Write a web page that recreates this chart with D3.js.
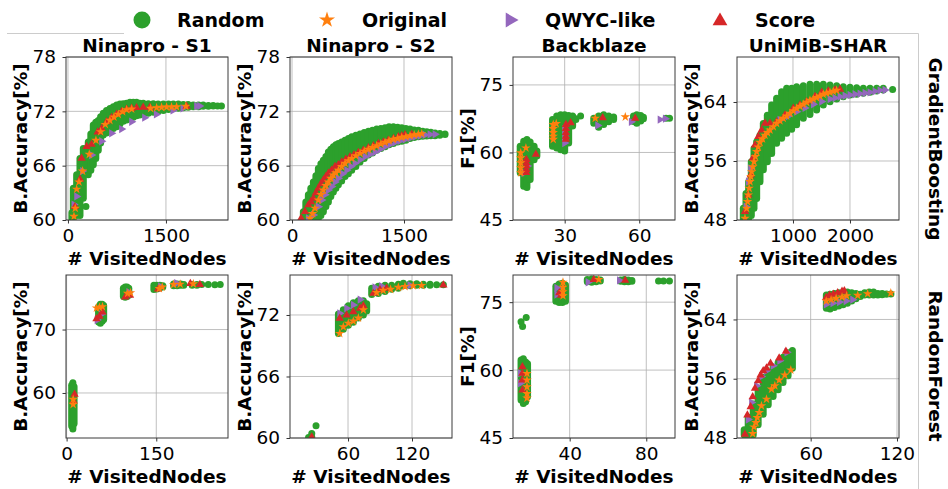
<!DOCTYPE html>
<html>
<head>
<meta charset="utf-8">
<script src="https://cdn.jsdelivr.net/npm/d3@7"></script>
<style>
  body { margin: 0; background: #fff; }
  text { font-family: "DejaVu Sans", sans-serif; }
</style>
</head>
<body>
<svg id="chart" width="948" height="489"></svg>
<script>
// series names in the legend
var seriesNames = ['Random', 'Original', 'QWYC-like', 'Score'];
var datasets = ['Ninapro - S1', 'Ninapro - S2', 'Backblaze', 'UniMiB-SHAR'];
var models = ['GradientBoosting', 'RandomForest'];

// Random rows are [visitedNodes, lowest acc, highest acc] : a column of points
// (a single value means one point). Other series are [visitedNodes, acc].

// ---- GradientBoosting / Ninapro - S1
var gbS1Random = [[61,60.2,60.8],[82,60.2,63.5],[133,60.5,65.0],[184,60.5,66.8],[235,62.4,67.9],[275,61.5],[311,65.0,68.6],[350,65.5,69.5],[388,66.1,70.5],[426,66.8,70.8],[464,67.7,71.0],[500,68.5,71.4],[541,69.4,71.8],[590,69.6,72.1],[643,69.8,72.3],[694,70.1,72.5],[745,70.3,72.7],[796,70.6,72.8],[847,70.9,72.85],[898,71.05,72.9],[949,71.2,73.0],[1000,71.35,73.0],[1050,71.5,73.0],[1100,71.6,72.9],[1153,71.7,72.9],[1230,71.8,72.85],[1306,71.9,72.85],[1380,72.0,72.8],[1460,72.1,72.8],[1540,72.2,72.8],[1612,72.3,72.8],[1690,72.35,72.8],[1765,72.4,72.75],[1840,72.45,72.75],[1918,72.5,72.7],[2000,72.5,72.7],[2070,72.55,72.7],[2150,72.55,72.65],[2223,72.6,72.65],[2290,72.6],[2350,72.6]];
var gbS1Original = [[92,60.4],[112,61.3],[133,63.4],[168,64.2],[224,65.4],[326,67.25],[428,68.8],[500,69.75],[571,70.55],[642,71.0],[704,71.37],[770,71.66],[836,71.96],[898,72.18],[975,72.25],[1265,72.33],[1357,72.4],[1433,72.44],[1510,72.47],[1586,72.47],[1663,72.5],[1805,72.55]];
var gbS1Qwyc = [[92,61.7],[133,62.6],[224,65.4],[362,67.17],[515,68.7],[668,69.57],[821,70.04],[974,70.85],[1173,71.3],[1352,71.66],[1607,72.1],[1760,72.33],[1969,72.58],[2015,72.59]];
var gbS1Score = [[107,61.47],[184,64.5],[209,66.8],[286,68.1],[362,68.35],[454,69.7],[515,70.1],[592,70.85],[668,71.3],[745,71.66],[821,71.96],[898,72.22],[974,72.33],[1050,72.4],[1152,72.44],[1255,72.44],[1816,72.55]];

// ---- GradientBoosting / Ninapro - S2
var gbS2Random = [[152,60.2,60.9],[185,60.2,62.0],[219,60.2,62.8],[252,60.2,63.5],[286,60.2,64.2],[320,60.2,64.9],[353,60.2,65.7],[387,60.5,66.2],[420,60.9,66.6],[454,61.5,67.0],[487,62.0,67.5],[520,62.6,67.8],[554,63.1,68.1],[588,63.5,68.3],[621,63.9,68.46],[665,64.3,68.6],[710,64.8,68.8],[755,65.1,69.0],[800,65.5,69.2],[855,65.9,69.35],[911,66.4,69.5],[967,66.8,69.65],[1023,67.17,69.8],[1078,67.4,69.9],[1134,67.7,70.05],[1190,67.9,70.1],[1246,68.1,70.2],[1300,68.3,70.3],[1358,68.46,70.3],[1414,68.6,70.25],[1470,68.7,70.2],[1525,68.8,70.1],[1581,69.0,70.05],[1637,69.1,69.95],[1693,69.2,69.9],[1750,69.25,69.8],[1805,69.27,69.75],[1860,69.3,69.7],[1916,69.3,69.6],[1980,69.35,69.55],[2050,69.45,69.5]];
var gbS2Original = [[241,60.18],[275,60.7],[308,61.3],[353,62.2],[387,62.8],[420,63.3],[454,63.8],[487,64.2],[520,64.6],[554,64.97],[588,65.2],[621,65.5],[665,65.9],[710,66.26],[755,66.55],[800,66.8],[855,67.1],[911,67.35],[967,67.6],[1023,67.8],[1078,68.0],[1134,68.2],[1190,68.4],[1246,68.57],[1300,68.75],[1358,68.9],[1414,69.0],[1470,69.13],[1525,69.2],[1581,69.3],[1637,69.4],[1693,69.46],[1738,69.53]];
var gbS2Qwyc = [[219,60.18],[286,60.55],[353,61.47],[398,62.2],[442,62.8],[487,63.3],[532,63.7],[577,64.2],[621,64.6],[677,65.1],[733,65.5],[789,65.9],[844,66.26],[911,66.65],[978,66.99],[1045,67.25],[1112,67.5],[1179,67.8],[1246,68.1],[1313,68.35],[1380,68.57],[1447,68.75],[1514,68.9],[1581,69.05],[1648,69.2],[1715,69.3],[1782,69.4],[1849,69.45],[1916,69.46]];
var gbS2Score = [[121,60.18],[174,60.92],[219,61.66],[253,62.0],[286,62.4],[320,63.0],[353,63.5],[387,64.0],[420,64.4],[454,64.8],[487,65.15],[530,65.5],[576,65.9],[620,66.1],[665,66.4],[720,66.7],[777,66.99],[830,67.2],[889,67.46],[955,67.7],[1023,67.97],[1090,68.2],[1157,68.45],[1225,68.6],[1291,68.8],[1360,69.0],[1425,69.2],[1470,69.3],[1514,69.4],[1604,69.46]];

// ---- GradientBoosting / Backblaze
var gbBbRandom = [[12.1,55.5,61.4],[13.5,52.5,62.5],[14.8,52.2,62.9],[16.1,54.0,62.3],[17.7,58.4,61.4],[18.8,59.2,60.3],[25.1,61.4,67.3],[26.8,61.0,68.1],[28.4,60.6,68.4],[30.0,60.3,68.4],[31.6,62.1,68.2],[33.2,65.85,68.1],[34.5,67.3,67.5],[36.4,68.1],[41.7,66.5,67.6],[43.7,65.6,68.1],[45.7,66.2,68.4],[47.7,66.8,68.1],[49.7,67.3,67.9],[57.7,66.9,68.1],[59.0,66.5,68.4],[60.6,67.0,68.2],[61.7,67.5,67.8],[70.8,67.6],[72.2,67.6]];
var gbBbOriginal = [[12.3,59.9],[12.3,58.8],[12.3,57.7],[12.3,56.6],[12.3,55.5],[14.4,61.0],[25.4,66.2],[25.4,65.3],[25.4,64.4],[25.4,63.6],[25.4,62.9],[26.6,66.4],[42.3,67.6],[54.4,67.9]];
var gbBbQwyc = [[13.6,55.5],[15.0,57.0],[30.0,65.1],[30.0,63.6],[30.0,62.1],[43.3,66.0],[56.8,66.8],[68.4,67.3],[70.5,67.5]];
var gbBbScore = [[14.6,58.4],[14.6,57.7],[14.6,57.0],[14.6,56.2],[14.6,55.5],[18.4,59.6],[30.5,66.2],[30.5,65.3],[30.5,64.4],[30.5,63.6],[30.5,62.9],[32.4,66.6],[45.3,67.7],[58.4,67.6]];

// ---- GradientBoosting / UniMiB-SHAR
var gbUmRandom = [[129,48.23,49.6],[176,48.23,51.6],[222,48.23,53.2],[269,48.6,55.9],[316,49.6,57.7],[363,50.9,58.6],[421,53.2,59.5],[480,54.8,61.1],[550,55.9,62.2],[626,57.0,63.6],[713,58.4,64.5],[801,59.1,65.4],[889,59.75,65.85],[977,60.3,65.85],[1064,60.9,66.08],[1181,61.8,66.2],[1298,62.3,66.4],[1415,62.9,66.4],[1532,63.6,66.4],[1649,64.04,66.3],[1766,64.4,66.2],[1883,64.72,66.08],[2000,64.95,66.0],[2117,65.04,65.94],[2234,65.18,65.85],[2351,65.31,65.85],[2468,65.49,65.85],[2584,65.63,65.85],[2748,65.68]];
var gbUmOriginal = [[158,48.23],[187,49.58],[202,50.5],[217,51.39],[231,52.3],[246,53.2],[260,53.9],[275,54.55],[295,55.2],[316,55.9],[340,56.6],[363,57.27],[390,57.9],[421,58.53],[465,59.0],[509,59.5],[553,59.85],[597,60.2],[655,60.65],[713,61.1],[772,61.45],[830,61.79],[889,62.1],[947,62.46],[1006,62.8],[1064,63.14],[1123,63.4],[1181,63.69],[1240,63.95],[1298,64.24],[1357,64.4],[1415,64.59],[1474,64.8],[1532,65.04],[1590,65.2],[1649,65.31],[1707,65.45],[1766,65.58]];
var gbUmQwyc = [[176,49.8],[217,53.2],[258,55.0],[772,61.56],[918,62.1],[1064,62.69],[1210,63.2],[1357,63.69],[1503,64.05],[1649,64.4],[1737,64.55],[1825,64.72],[1912,64.85],[2000,64.95],[2088,65.05],[2175,65.13],[2263,65.22],[2351,65.31],[2438,65.45],[2526,65.58],[2614,65.63]];
var gbUmScore = [[158,49.13],[217,51.39],[258,54.1],[293,56.36],[333,58.17],[392,59.3],[450,60.2],[509,61.1],[597,61.1],[713,61.33],[860,62.24],[1006,63.14],[1123,63.6],[1240,64.04],[1386,64.72],[1503,65.31],[1620,65.49],[1737,65.63],[1825,65.72]];

// ---- RandomForest / Ninapro - S1
var rfS1Random = [[8.5,54.8,61.2],[10.5,54.3,61.6],[12.5,55.2,61.0],[53.5,71.2,73.6],[56.5,71.0,74.0],[59.5,71.3,74.0],[62,71.6,73.8],[95,75.2,76.5],[98,75.1,76.7],[101,75.2,76.7],[104,75.4,76.5],[146,76.3,77.0],[151,76.4,77.0],[156,76.6,77.0],[161,76.7,76.9],[179,76.9,77.2],[185,76.9,77.2],[191,77.0,77.2],[196,77.0,77.1],[210,77.0,77.1],[218,77.0,77.1],[226,77.1],[237,77.1],[248,77.05],[257,77.1]];
var rfS1Original = [[11,59.0],[11,58.2],[50,73.4],[55,73.5],[60,73.6],[102,75.7],[107,75.8],[155,76.46],[160,76.7],[179,77.1],[190,77.15],[212,77.2]];
var rfS1Qwyc = [[51,71.5],[58,72.4],[104,75.9],[157,76.8],[184,77.3]];
var rfS1Score = [[13.3,59.8],[11.7,58.7],[50,71.7],[55,72.1],[60,72.75],[98,75.1],[106,75.4],[153,76.36],[207,77.25],[223,77.1]];

// ---- RandomForest / Ninapro - S2
var rfS2Random = [[23,60.05],[26,60.1],[26,60.45],[30,61.2],[51,70.2,72.1],[55.6,70.6,72.5],[60.3,71.0,72.9],[65,71.3,73.2],[69.7,71.7,73.4],[74.4,72.0,73.4],[77.5,72.4,73.1],[82.2,74.0,74.6],[88.4,74.1,74.8],[94.7,74.3,74.9],[100.9,74.5,74.9],[107.2,74.6,75.0],[111.9,74.85,75.1],[118.1,74.85,75.05],[124.4,74.9,75.05],[130.6,74.9,75.0],[136.9,74.9,75.0],[143.1,74.95],[149.4,74.95]];
var rfS2Original = [[52.2,70.2],[55.6,70.85],[60.3,71.2],[65,71.4],[69.7,71.7],[74.4,72.5],[86.8,74.19],[93,74.4],[99.9,74.5],[107.2,74.7],[113.4,74.78],[121.2,74.85],[129,74.88]];
var rfS2Qwyc = [[52.2,72.16],[58.7,72.65],[65,72.98],[71.3,73.5],[85.2,74.7],[91.5,74.8],[118,74.9]];
var rfS2Score = [[26,60.1],[52.2,71.67],[58.7,72.0],[65,72.3],[71.3,72.65],[74.4,72.9],[83.7,74.1],[90,74.45],[96.2,74.6],[149.4,74.92]];

// ---- RandomForest / Backblaze
var rfBbRandom = [[14.6,53.4,62.2],[15.8,52.6,62.5],[17.0,53.0,61.8],[18.0,54.1,61.4],[14.6,70.7],[15.4,69.6],[17.3,71.6],[32.8,75.2,78.5],[34.5,74.9,79.0],[36.2,74.9,79.2],[37.8,75.2,78.8],[49.2,79.5,80.0],[51.5,79.4,80.1],[53.8,79.5,80.0],[56,79.7,79.9],[66.6,79.6,79.9],[68.6,79.5,80.0],[70.6,79.5,79.9],[72.5,79.6,79.8],[86.4,79.7],[89,79.7],[92.1,79.7]];
var rfBbOriginal = [[17.7,59.26],[17.7,57.8],[17.7,56.3],[17.7,54.8],[17.7,53.8],[36.5,79.4],[36.5,78.3],[36.5,77.3],[36.5,76.4],[55.2,80.0]];
var rfBbQwyc = [[14.2,59.3],[14.2,57.1],[33.3,78.15],[33.3,76.7],[49.6,79.4],[66,79.8]];
var rfBbScore = [[15.3,60.74],[15.3,59.26],[15.3,57.8],[15.3,55.6],[34.6,77.04],[35.5,76.5],[52.6,80.0],[69,79.8]];

// ---- RandomForest / UniMiB-SHAR
var rfUmRandom = [[13.8,48.4,49.1],[16.6,48.4,50.8],[20.1,48.4,52.6],[23.5,49.8,54.6],[27,51.2,56.2],[30.5,52.5,56.9],[33.9,53.6,57.5],[37.4,54.5,58.2],[40.8,55.5,58.9],[44.3,56.4,59.5],[47.3,57.4,59.8],[70.9,65.5,67.3],[73.5,65.4,67.4],[76.5,65.6,67.5],[79.5,65.8,67.6],[82.5,66.0,67.6],[85.5,66.2,67.7],[88.5,66.5,67.6],[91.5,66.8,67.5],[94.5,67.1,67.4],[97.5,67.3,67.6],[100.7,67.3,67.7],[103.7,67.3,67.7],[106.7,67.3,67.5],[109.7,67.35,67.5],[112.7,67.4,67.45],[115.8,67.45]];
var rfUmOriginal = [[19.7,48.59],[20.6,49.49],[22,50.08],[22.9,50.76],[24.3,51.43],[25.8,52.34],[29.3,53.24],[32.8,54.6],[35.1,55.05],[38.1,55.82],[42,56.5],[46.2,57.18],[70.8,66.49],[74.2,66.67],[77.7,66.85],[81.8,67.03],[85,67.2],[92.7,67.25],[99.6,67.48],[115.7,67.57]];
var rfUmQwyc = [[16.6,50.5],[18.9,52.8],[22.4,55.05],[25.8,56.3],[29.3,57.08],[33.9,57.76],[38.5,58.44],[43.5,59.57],[70.8,66.03],[75.4,66.2],[80,66.35],[84.6,66.49],[89.2,66.67]];
var rfUmScore = [[14.3,48.5],[16,51.1],[18.3,52.2],[19.7,53.56],[21.3,54.7],[23.5,55.73],[25.2,56.5],[27,57.08],[29.3,57.45],[32.1,58.08],[38.1,58.8],[42.8,59.7],[70.8,66.94],[73.1,67.25],[75.8,67.4],[78.8,67.6],[81.8,67.8],[83.4,67.85]];

var colors = {
        random: '#2ca02c',
        original: '#ff7f0e',
        qwyc: '#9467bd',
        score: '#d62728'
    },
    colX = [66, 290, 513, 737], // left edge of each column of axes
    rowY = [57, 275],
    pw = 162,
    ph = 163,
    svg = d3.select('#chart');

var panels = [
    {ylabel: 'B.Accuracy[%]', xDomain: [-30, 2450], yDomain: [60, 78], xTicks: [0, 1500], yTicks: [60, 66, 72, 78], random: gbS1Random, original: gbS1Original, qwyc: gbS1Qwyc, score: gbS1Score},
    {ylabel: 'B.Accuracy[%]', xDomain: [-27, 2143], yDomain: [60, 78], xTicks: [0, 1500], yTicks: [60, 66, 72, 78], random: gbS2Random, original: gbS2Original, qwyc: gbS2Qwyc, score: gbS2Score},
    {ylabel: 'F1[%]', xDomain: [9.2, 74.4], yDomain: [45, 81.2], xTicks: [30, 60], yTicks: [45, 60, 75], random: gbBbRandom, original: gbBbOriginal, qwyc: gbBbQwyc, score: gbBbScore},
    {ylabel: 'B.Accuracy[%]', xDomain: [18, 2860], yDomain: [48, 70.1], xTicks: [1000, 2000], yTicks: [48, 56, 64], random: gbUmRandom, original: gbUmOriginal, qwyc: gbUmQwyc, score: gbUmScore},
    {ylabel: 'B.Accuracy[%]', xDomain: [-1, 270], yDomain: [52.9, 78.6], xTicks: [0, 150], yTicks: [60, 70], random: rfS1Random, original: rfS1Original, qwyc: rfS1Qwyc, score: rfS1Score},
    {ylabel: 'B.Accuracy[%]', xDomain: [5.6, 157.5], yDomain: [60, 75.9], xTicks: [60, 120], yTicks: [60, 66, 72], random: rfS2Random, original: rfS2Original, qwyc: rfS2Qwyc, score: rfS2Score},
    {ylabel: 'F1[%]', xDomain: [10.4, 95], yDomain: [45, 81], xTicks: [40, 80], yTicks: [45, 60, 75], random: rfBbRandom, original: rfBbOriginal, qwyc: rfBbQwyc, score: rfBbScore},
    {ylabel: 'B.Accuracy[%]', xDomain: [8.8, 121.4], yDomain: [48, 70], xTicks: [60, 120], yTicks: [48, 56, 64], random: rfUmRandom, original: rfUmOriginal, qwyc: rfUmQwyc, score: rfUmScore}
];

var starPath = d3.symbol(d3.symbolStar, 28),
    triPath = d3.symbol(d3.symbolTriangle, 30);

// the big legend frame: only its top and right edges show round the legend
svg.append('path')
    .attr('d', 'M7,33.5H124M820,33.5H918.5V489')
    .attr('fill', 'none')
    .attr('stroke', '#cccccc')
    .attr('stroke-width', 1);

panels.forEach(function(p, i) {
    var x0 = colX[i % 4], y0 = rowY[Math.floor(i / 4)];
    var x = d3.scaleLinear().domain(p.xDomain).range([x0, x0 + pw]);
    var y = d3.scaleLinear().domain(p.yDomain).range([y0 + ph, y0]);
    var g = svg.append('g');

    // grid
    g.selectAll('line.gx')
        .data(p.xTicks)
        .enter()
        .append('line')
        .attr('x1', function(d) { return x(d); })
        .attr('x2', function(d) { return x(d); })
        .attr('y1', y0)
        .attr('y2', y0 + ph)
        .attr('stroke', '#b0b0b0')
        .attr('stroke-width', 0.8);
    g.selectAll('line.gy')
        .data(p.yTicks)
        .enter()
        .append('line')
        .attr('x1', x0)
        .attr('x2', x0 + pw)
        .attr('y1', function(d) { return y(d); })
        .attr('y2', function(d) { return y(d); })
        .attr('stroke', '#b0b0b0')
        .attr('stroke-width', 0.8);

    svg.append('clipPath')
        .attr('id', 'clip' + i)
        .append('rect')
        .attr('x', x0).attr('y', y0)
        .attr('width', pw).attr('height', ph);
    var marks = g.append('g').attr('clip-path', 'url(#clip' + i + ')');

    // Random: columns of dots
    marks.selectAll('line.rnd')
        .data(p.random.filter(function(d) { return d.length > 2; }))
        .enter()
        .append('line')
        .attr('x1', function(d) { return x(d[0]); })
        .attr('x2', function(d) { return x(d[0]); })
        .attr('y1', function(d) { return y(d[1]); })
        .attr('y2', function(d) { return y(d[2]); })
        .attr('stroke', colors.random)
        .attr('stroke-width', 7)
        .attr('stroke-linecap', 'round');
    marks.selectAll('circle.rnd')
        .data(p.random.filter(function(d) { return d.length == 2; }))
        .enter()
        .append('circle')
        .attr('cx', function(d) { return x(d[0]); })
        .attr('cy', function(d) { return y(d[1]); })
        .attr('r', 3.5)
        .attr('fill', colors.random);

    marks.selectAll('path.qwyc')
        .data(p.qwyc)
        .enter()
        .append('path')
        .attr('d', triPath)
        .attr('transform', function(d) { return 'translate(' + x(d[0]) + ',' + y(d[1]) + ') rotate(90)'; })
        .attr('fill', colors.qwyc);
    marks.selectAll('path.score')
        .data(p.score)
        .enter()
        .append('path')
        .attr('d', triPath)
        .attr('transform', function(d) { return 'translate(' + x(d[0]) + ',' + y(d[1]) + ')'; })
        .attr('fill', colors.score);
    marks.selectAll('path.orig')
        .data(p.original)
        .enter()
        .append('path')
        .attr('d', starPath)
        .attr('transform', function(d) { return 'translate(' + x(d[0]) + ',' + y(d[1]) + ')'; })
        .attr('fill', colors.original);

    // axes
    var gx = g.append('g')
        .attr('transform', 'translate(0,' + (y0 + ph) + ')')
        .call(d3.axisBottom(x).tickValues(p.xTicks).tickSize(3.5).tickSizeOuter(0).tickPadding(5.5).tickFormat(d3.format('d')));
    var gy = g.append('g')
        .attr('transform', 'translate(' + x0 + ',0)')
        .call(d3.axisLeft(y).tickValues(p.yTicks).tickSize(3.5).tickSizeOuter(0).tickPadding(6.5).tickFormat(d3.format('d')));
    [gx, gy].forEach(function(a) {
        a.select('.domain').remove();
        a.attr('font-size', 18.5).attr('font-family', '"DejaVu Sans", sans-serif');
        a.selectAll('line').attr('stroke', '#333');
    });

    g.append('rect')
        .attr('x', x0).attr('y', y0)
        .attr('width', pw).attr('height', ph)
        .attr('fill', 'none')
        .attr('stroke', '#3a3a3a')
        .attr('stroke-width', 1);

    // labels
    g.append('text')
        .attr('transform', 'translate(' + (x0 - 45) + ',' + (y0 + ph / 2) + ') rotate(-90)')
        .attr('text-anchor', 'middle')
        .attr('dy', '0.35em')
        .attr('font-size', 18.5)
        .attr('font-weight', 'bold')
        .text(p.ylabel);
    g.append('text')
        .attr('x', x0 + pw / 2)
        .attr('y', y0 + ph + 45)
        .attr('text-anchor', 'middle')
        .attr('font-size', 18.5)
        .attr('font-weight', 'bold')
        .text('# VisitedNodes');
    if (i < 4) {
        g.append('text')
            .attr('x', x0 + pw / 2)
            .attr('y', y0 - 5)
            .attr('text-anchor', 'middle')
            .attr('font-size', 18.5)
            .attr('font-weight', 'bold')
            .text(datasets[i]);
    }
});

// row labels on the right
svg.selectAll('text.row')
    .data(models)
    .enter()
    .append('text')
    .attr('transform', function(d, i) { return 'translate(935,' + [149, 366][i] + ') rotate(90)'; })
    .attr('text-anchor', 'middle')
    .attr('dy', '0.35em')
    .attr('font-size', 18.5)
    .attr('font-weight', 'bold')
    .text(function(d) { return d; });

// legend
var legendX = [142, 327, 510, 720];
var legend = svg.append('g');
legend.append('circle').attr('cx', legendX[0]).attr('cy', 20).attr('r', 8.5).attr('fill', colors.random);
legend.append('path').attr('d', d3.symbol(d3.symbolStar, 80)).attr('transform', 'translate(' + legendX[1] + ',20)').attr('fill', colors.original);
legend.append('path').attr('d', d3.symbol(d3.symbolTriangle, 95)).attr('transform', 'translate(' + legendX[2] + ',20) rotate(90)').attr('fill', colors.qwyc);
legend.append('path').attr('d', d3.symbol(d3.symbolTriangle, 95)).attr('transform', 'translate(' + legendX[3] + ',21)').attr('fill', colors.score);
legend.selectAll('text')
    .data(seriesNames)
    .enter()
    .append('text')
    .attr('x', function(d, i) { return legendX[i] + 35; })
    .attr('y', 27)
    .attr('font-size', 19)
    .attr('font-weight', 'bold')
    .text(function(d) { return d; });
</script>
</body>
</html>
